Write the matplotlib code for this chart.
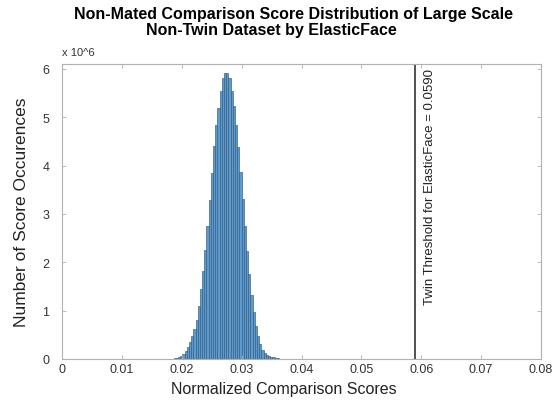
import numpy as np
import matplotlib
matplotlib.use("Agg")
import matplotlib.pyplot as plt

# ---- data (counts in units of 1e6 per bin) ----
bin_start = 0.01826
bin_width = 0.000367
counts = [0.006, 0.012, 0.022, 0.04, 0.07, 0.11, 0.17, 0.25, 0.35, 0.48, 0.62, 0.80,
          1.10, 1.45, 1.83, 2.26, 2.76, 3.28, 3.84, 4.40, 4.83, 5.19, 5.55, 5.81,
          5.92, 5.92,
          5.81, 5.55, 5.24, 4.83, 4.38, 3.86, 3.31, 2.76, 2.24, 1.76, 1.32, 0.97,
          0.69, 0.47, 0.30, 0.19, 0.13, 0.09, 0.065, 0.045, 0.032, 0.022, 0.015, 0.01,
          0.006]
threshold = 0.0590
x_ticks = [0, 0.01, 0.02, 0.03, 0.04, 0.05, 0.06, 0.07, 0.08]
x_tick_labels = ["0", "0.01", "0.02", "0.03", "0.04", "0.05", "0.06", "0.07", "0.08"]
y_ticks = [0, 1, 2, 3, 4, 5, 6]

plt.rcParams['font.family'] = ['Liberation Sans', 'DejaVu Sans']

fig = plt.figure(figsize=(5.58, 4.02), dpi=100)
ax = fig.add_axes([62/558, 1-360/402, (541-62)/558, (360-65)/402])

edges = bin_start + bin_width*np.arange(len(counts)+1)
ax.bar(edges[:-1], counts, width=bin_width, align='edge',
       color='#5b9bd0', edgecolor='#35597c', linewidth=0.45)

ax.axvline(threshold, color='#333333', linewidth=1.2)
ax.text(threshold + 0.0024, 6.02, "Twin Threshold for ElasticFace = 0.0590",
        rotation=90, ha='center', va='top', fontsize=9.5, color='#222222')

ax.set_xlim(0, 0.08)
ax.set_ylim(0, 6.1)
ax.set_xticks(x_ticks)
ax.set_xticklabels(x_tick_labels)
ax.set_yticks(y_ticks)
ax.set_yticklabels([str(v) for v in y_ticks])
ax.tick_params(direction='in', top=True, right=True, length=3, width=0.6,
               colors='#b0b0b0', labelcolor='#333333', labelsize=9)
ax.tick_params(axis='x', pad=3)
ax.tick_params(axis='y', pad=9)
for s in ax.spines.values():
    s.set_color('#b0b0b0')
    s.set_linewidth(0.8)

ax.set_xlabel("Normalized Comparison Scores", fontsize=11.5, color='#222222')
ax.xaxis.set_label_coords((283.5-62)/479, (360-382)/295)
ax.set_ylabel("Number of Score Occurences", fontsize=12.5, color='#222222', labelpad=10)

fig.text(62/558, 1-53/402, "x 10^6", fontsize=8, color='#333333', ha='left', va='center')
fig.text(294/558, 1-14/402, "Non-Mated Comparison Score Distribution of Large Scale",
         fontsize=11.5, fontweight='bold', ha='center', va='center')
fig.text(271/558, 1-31/402, "Non-Twin Dataset by ElasticFace",
         fontsize=11.5, fontweight='bold', ha='center', va='center')

fig.savefig("out.png", dpi=100)
